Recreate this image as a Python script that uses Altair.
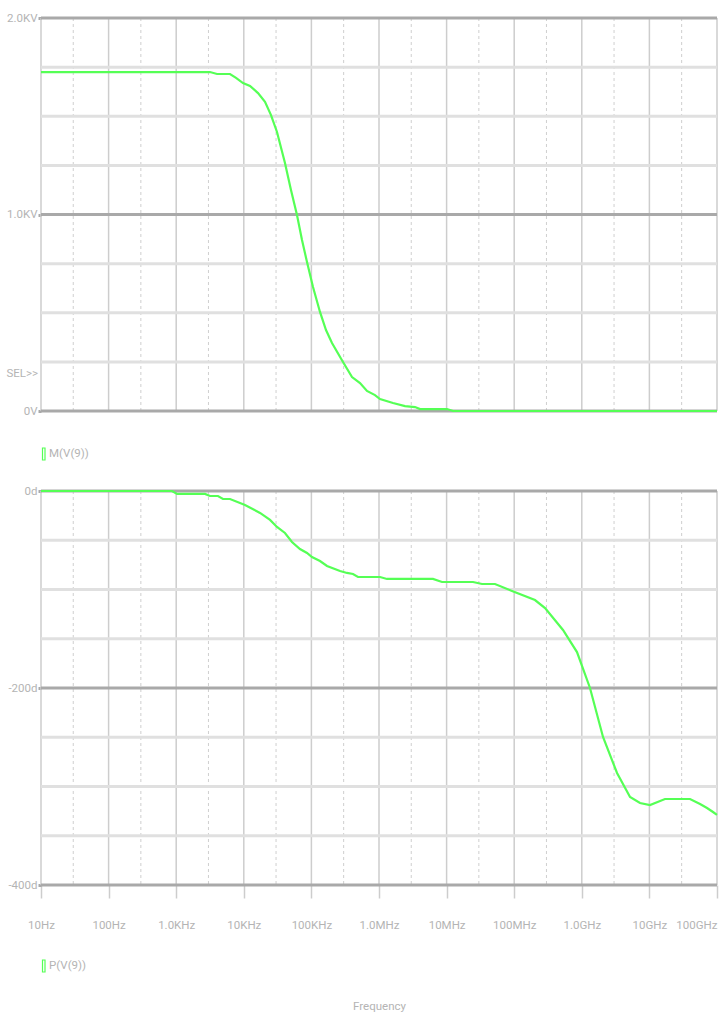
import altair as alt
import pandas as pd

# ---- AC sweep of node 9: magnitude (volts) and phase (degrees) ----
mag_freq = [10, 3162, 4018, 6252, 7674, 9731, 12350, 16230, 20590, 25260,
            30970, 40650, 49880, 61200, 72600, 86100, 105600, 134000, 164400,
            201700, 293300, 398800, 523600, 664000, 872400, 1.035e6, 1.611e6,
            2.425e6, 3.41e6, 4.05e6, 1.015e7, 1.245e7, 1e11]
mag_volts = [1725, 1725, 1715, 1715, 1695, 1669, 1654, 1618, 1573, 1506,
             1420, 1262, 1125, 997, 870, 758, 631, 504, 412,
             346, 249, 173, 142, 102, 81, 61, 41,
             25, 20, 10, 10, 0, 0]

ph_freq = [10, 867, 1028, 2667, 3162, 4150, 4920, 6252, 10420, 17380, 24440,
           30970, 40650, 51620, 67770, 86100, 102000, 134000, 170200, 265000,
           336500, 412400, 488900, 1.035e6, 1.313e6, 6.29e6, 8.55e6, 2.46e7,
           3.34e7, 5.2e7, 9.28e7, 2.03e8, 2.86e8, 5.27e8, 8.49e8, 1.322e9,
           2.06e9, 3.32e9, 5.17e9, 7.26e9, 1.02e10, 1.70e10, 3.99e10, 5.61e10,
           7.12e10, 8.73e10, 1e11]
ph_deg = [0, 0, -3.0, -3.0, -5.1, -5.1, -8.1, -8.1, -14.2, -22.3, -29.4,
          -36.5, -42.6, -51.8, -58.9, -62.9, -67.0, -71.1, -76.1, -81.2,
          -83.2, -84.3, -87.3, -87.3, -89.3, -89.3, -92.4, -92.4,
          -94.4, -94.4, -101.5, -110.7, -118.8, -141.1, -163.5, -200.0,
          -249.7, -286.3, -310.7, -316.8, -318.8, -312.7, -312.7, -317.8,
          -321.8, -325.9, -328.9]

# ---- grid and tick definitions ----
decades = [1e1, 1e2, 1e3, 1e4, 1e5, 1e6, 1e7, 1e8, 1e9, 1e10, 1e11]
freq_labels = ["10Hz", "100Hz", "1.0KHz", "10KHz", "100KHz", "1.0MHz",
               "10MHz", "100MHz", "1.0GHz", "10GHz", "100GHz"]
thirds = [3e1, 3e2, 3e3, 3e4, 3e5, 3e6, 3e7, 3e8, 3e9, 3e10]

mag_major = [0, 1000, 2000]
mag_major_labels = ["0V", "1.0KV", "2.0KV"]
mag_minor = [250, 500, 750, 1250, 1500, 1750]

ph_major = [0, -200, -400]
ph_major_labels = ["0d", "-200d", "-400d"]
ph_minor = [-50, -100, -150, -250, -300, -350]

FONT = "Roboto"
FS = 11.5
TXT = "#b4b4b4"
GREEN = "#55ff55"
W = 676

xscale = alt.Scale(type="log", domain=[10, 1e11], nice=False)


def label_expr(values, labels):
    expr = "''"
    for v, t in zip(values, labels):
        expr = f"datum.value == {v} ? '{t}' : ({expr})"
    return expr


def y_axis(values, labels):
    return alt.Axis(
        values=values, labelExpr=label_expr(values, labels),
        title=None, grid=False, domain=False, tickSize=3, tickWidth=3,
        tickColor="#a9a9a9", labelPadding=1, labelFont=FONT, labelFontSize=FS,
        labelColor=TXT)


x_hidden = alt.Axis(labels=False, ticks=False, domain=False, grid=False, title=None)

x_freq = alt.Axis(
    values=decades, labelExpr=label_expr(decades, freq_labels),
    title="Frequency", grid=False, domain=False, tickSize=13, tickWidth=1.5,
    tickColor="#cdcdcd", labelPadding=21, labelFont=FONT, labelFontSize=FS,
    labelColor=TXT,
    labelAlign={"condition": {"test": "datum.value > 5e10", "value": "right"},
                "value": "center"},
    titleFont=FONT, titleFontSize=FS, titleFontWeight="normal",
    titleColor=TXT, titlePadding=70)


def panel(freq, vals, yscale, yaxis, xaxis, minor, major, extra, height):
    X = alt.X("f:Q", scale=xscale, axis=xaxis)
    Y = alt.Y("v:Q", scale=yscale, axis=yaxis)
    vmaj = alt.Chart(pd.DataFrame({"f": decades})).mark_rule(
        color="#cdcdcd", strokeWidth=1.5).encode(x=X)
    vmin = alt.Chart(pd.DataFrame({"f": thirds})).mark_rule(
        color="#cfcfcf", strokeWidth=1, strokeDash=[3, 3]).encode(x=X)
    hmin = alt.Chart(pd.DataFrame({"v": minor})).mark_rule(
        color="#e0e0e0", strokeWidth=3).encode(y=Y)
    hmaj = alt.Chart(pd.DataFrame({"v": major})).mark_rule(
        color="#a9a9a9", strokeWidth=3).encode(y=Y)
    line = alt.Chart(pd.DataFrame({"f": freq, "v": vals})).mark_line(
        color=GREEN, strokeWidth=2.2).encode(x=X, y=Y)
    return alt.layer(vmaj, vmin, hmin, hmaj, line, *extra).properties(
        width=W, height=height)


def legend(y0, text):
    box = alt.Chart(pd.DataFrame({"t": [text]})).mark_rect(
        fill="transparent", stroke=GREEN, strokeWidth=1.2
    ).encode(x=alt.value(1.5), x2=alt.value(4), y=alt.value(y0 - 6), y2=alt.value(y0 + 6))
    lab = alt.Chart(pd.DataFrame({"t": [text]})).mark_text(
        align="left", baseline="middle", font=FONT, fontSize=FS, color=TXT
    ).encode(x=alt.value(8), y=alt.value(y0), text="t:N")
    return [box, lab]


# ---- magnitude panel ----
mag_scale = alt.Scale(domain=[0, 2000], nice=False)
sel = alt.Chart(pd.DataFrame({"t": ["SEL>>"]})).mark_text(
    align="right", baseline="middle", font=FONT, fontSize=FS, color=TXT
).encode(x=alt.value(-3), y=alt.value(393 * (1 - 188 / 2000)), text="t:N")
anchor = alt.Chart(pd.DataFrame({"t": [0]})).mark_rule(
    strokeWidth=0, opacity=0
).encode(x=alt.value(-41), x2=alt.value(0), y=alt.value(-18), y2=alt.value(-18))

top = panel(mag_freq, mag_volts, mag_scale,
            y_axis(mag_major, mag_major_labels), x_hidden,
            mag_minor, mag_major,
            [sel, anchor, *legend(436, "M(V(9))")], 393)

# ---- phase panel ----
ph_scale = alt.Scale(domain=[-400, 0], nice=False)
bottom = panel(ph_freq, ph_deg, ph_scale,
               y_axis(ph_major, ph_major_labels), x_freq,
               ph_minor, ph_major,
               legend(475, "P(V(9))"), 394)

chart = alt.vconcat(top, bottom, spacing=80, bounds="flush").properties(
    padding=0, background="white"
).configure_view(strokeWidth=0)

chart.save("out.html", embed_options={"renderer": "svg", "actions": False})
